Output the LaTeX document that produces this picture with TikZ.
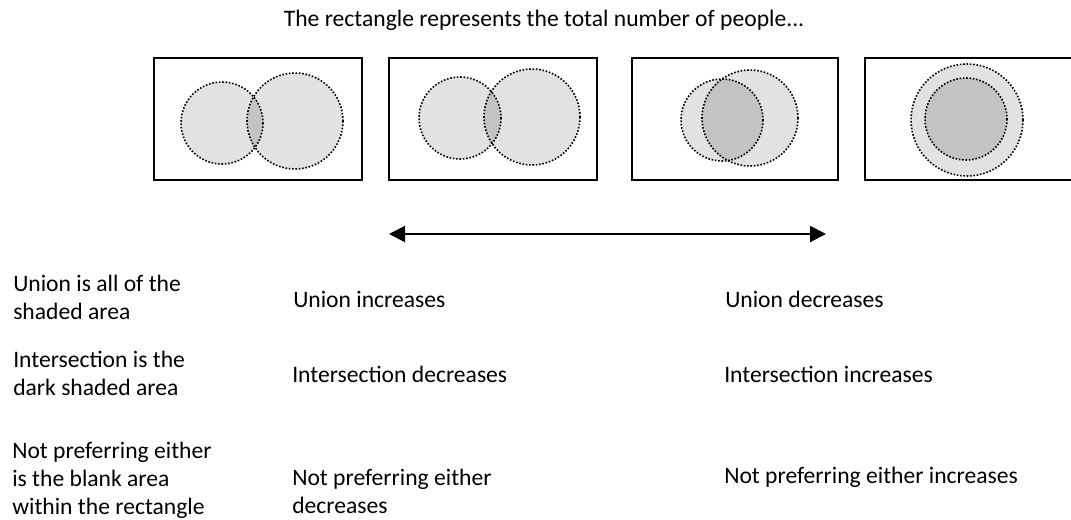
\documentclass[tikz,border=0pt]{standalone}
\usepackage{fontspec}
\setmainfont{Carlito}
\usetikzlibrary{arrows.meta}

\definecolor{lightset}{HTML}{E2E2E2}
\definecolor{darkset}{HTML}{C3C3C3}

\tikzset{
  panel/.style={draw=black, line width=1.5pt},
  dotline/.style={draw=black, line width=1.2pt, dash pattern=on 1.2pt off 1.3pt},
  txt/.style={anchor=base west, inner sep=0pt, align=left, font=\fontsize{17.7}{21}\selectfont},
}

\begin{document}
\begin{tikzpicture}[x=0.75pt,y=0.75pt,yscale=-1,xscale=1]
\useasboundingbox (0,0) rectangle (1071,519);

% Title
\node [txt, anchor=base] (title) at (544,26) {The rectangle represents the total number of people...};

%Panel 1
\draw [panel] (154,58) rectangle (362,180);
\fill [lightset] (222,123) circle (41);
\fill [lightset] (295,121) circle (48);
\begin{scope}
\clip (222,123) circle (41);
\fill [darkset] (295,121) circle (48);
\end{scope}
\draw [dotline] (222,123) circle (41);
\draw [dotline] (295,121) circle (48);

%Panel 2
\draw [panel] (389,58) rectangle (597,180);
\fill [lightset] (460,118) circle (41);
\fill [lightset] (532,117) circle (48);
\begin{scope}
\clip (460,118) circle (41);
\fill [darkset] (532,117) circle (48);
\end{scope}
\draw [dotline] (460,118) circle (41);
\draw [dotline] (532,117) circle (48);

%Panel 3
\draw [panel] (632,58) rectangle (838,180);
\fill [lightset] (722,120) circle (41);
\fill [lightset] (750,118) circle (48);
\begin{scope}
\clip (722,120) circle (41);
\fill [darkset] (750,118) circle (48);
\end{scope}
\draw [dotline] (722,120) circle (41);
\draw [dotline] (750,118) circle (48);

%Panel 4
\begin{scope}
\clip (0,0) rectangle (1071,519);
\draw [panel] (865,58) rectangle (1080,180);
\end{scope}
\fill [lightset] (967,120) circle (56);
\fill [darkset] (966,119) circle (41);
\draw [dotline] (967,120) circle (56);
\draw [dotline] (966,119) circle (41);

%Double arrow
\coordinate (arrowL) at (389,234);
\coordinate (arrowR) at (826,234);
\draw [line width=1.5pt, {Triangle[length=12pt,width=12pt]}-{Triangle[length=12pt,width=12pt]}] (arrowL) -- (arrowR);

% Text Node
\node [txt] (unionDef) at (13,319) {Union is all of the\\shaded area};
% Text Node
\node [txt] (interDef) at (13,395) {Intersection is the\\dark shaded area};
% Text Node
\node [txt] (blankDef) at (12,514) {Not preferring either\\is the blank area\\within the rectangle};
% Text Node
\node [txt] (unionUp) at (293,307) {Union increases};
% Text Node
\node [txt] (interDown) at (292,382) {Intersection decreases};
% Text Node
\node [txt] (blankDown) at (292,513) {Not preferring either\\decreases};
% Text Node
\node [txt] (unionDown) at (725,307) {Union decreases};
% Text Node
\node [txt] (interUp) at (724,382) {Intersection increases};
% Text Node
\node [txt] (blankUp) at (724,483) {Not preferring either increases};
\end{tikzpicture}
\end{document}
